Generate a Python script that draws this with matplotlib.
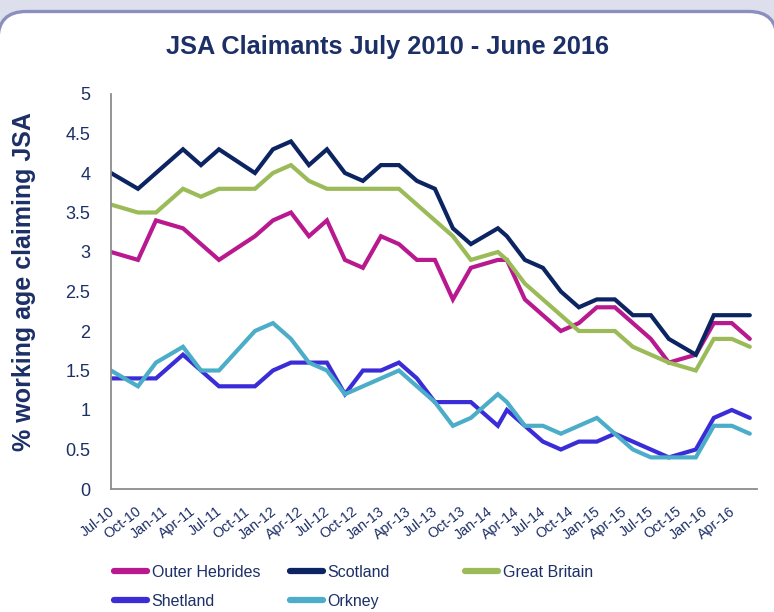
import matplotlib
matplotlib.use("Agg")
import matplotlib.pyplot as plt
from matplotlib.patches import FancyBboxPatch
from matplotlib.transforms import IdentityTransform, ScaledTranslation

# ---------------- data ----------------
months = [0, 3, 5, 8, 10, 12, 16, 18, 20, 22, 24, 26, 28, 30, 32, 34, 36, 38,
          40, 43, 44, 46, 48, 50, 52, 54, 56, 58, 60, 62, 65, 67, 69, 71]

outer_hebrides = [3.0, 2.9, 3.4, 3.3, 3.1, 2.9, 3.2, 3.4, 3.5, 3.2, 3.4, 2.9, 2.8, 3.2,
                  3.1, 2.9, 2.9, 2.4, 2.8, 2.9, 2.9, 2.4, 2.2, 2.0, 2.1, 2.3, 2.3, 2.1,
                  1.9, 1.6, 1.7, 2.1, 2.1, 1.9]
scotland = [4.0, 3.8, 4.0, 4.3, 4.1, 4.3, 4.0, 4.3, 4.4, 4.1, 4.3, 4.0, 3.9, 4.1,
            4.1, 3.9, 3.8, 3.3, 3.1, 3.3, 3.2, 2.9, 2.8, 2.5, 2.3, 2.4, 2.4, 2.2,
            2.2, 1.9, 1.7, 2.2, 2.2, 2.2]
great_britain = [3.6, 3.5, 3.5, 3.8, 3.7, 3.8, 3.8, 4.0, 4.1, 3.9, 3.8, 3.8, 3.8, 3.8,
                 3.8, 3.6, 3.4, 3.2, 2.9, 3.0, 2.9, 2.6, 2.4, 2.2, 2.0, 2.0, 2.0, 1.8,
                 1.7, 1.6, 1.5, 1.9, 1.9, 1.8]
shetland = [1.4, 1.4, 1.4, 1.7, 1.5, 1.3, 1.3, 1.5, 1.6, 1.6, 1.6, 1.2, 1.5, 1.5,
            1.6, 1.4, 1.1, 1.1, 1.1, 0.8, 1.0, 0.8, 0.6, 0.5, 0.6, 0.6, 0.7, 0.6,
            0.5, 0.4, 0.5, 0.9, 1.0, 0.9]
orkney = [1.5, 1.3, 1.6, 1.8, 1.5, 1.5, 2.0, 2.1, 1.9, 1.6, 1.5, 1.2, 1.3, 1.4,
          1.5, 1.3, 1.1, 0.8, 0.9, 1.2, 1.1, 0.8, 0.8, 0.7, 0.8, 0.9, 0.7, 0.5,
          0.4, 0.4, 0.4, 0.8, 0.8, 0.7]

tick_months = list(range(0, 72, 3))
tick_labels = ["Jul-10", "Oct-10", "Jan-11", "Apr-11", "Jul-11", "Oct-11", "Jan-12",
               "Apr-12", "Jul-12", "Oct-12", "Jan-13", "Apr-13", "Jul-13", "Oct-13",
               "Jan-14", "Apr-14", "Jul-14", "Oct-14", "Jan-15", "Apr-15", "Jul-15",
               "Oct-15", "Jan-16", "Apr-16"]

series = [
    ("Outer Hebrides", outer_hebrides, "#b8198e"),
    ("Scotland", scotland, "#0c2461"),
    ("Great Britain", great_britain, "#9bbb59"),
    ("Shetland", shetland, "#3a2dd8"),
    ("Orkney", orkney, "#4badc7"),
]

plt.rcParams["font.family"] = ["Liberation Sans", "DejaVu Sans"]
TXT = "#1c2f66"

W, H = 774, 612
fig = plt.figure(figsize=(W / 100, H / 100), dpi=100)
fig.patch.set_facecolor("#dde0ec")

frame = FancyBboxPatch((-2, -40), 779, H - 11.5 + 40,
                       boxstyle="round,pad=0,rounding_size=28",
                       transform=IdentityTransform(), facecolor="white",
                       edgecolor="#8a8fbf", linewidth=2.4, zorder=-10)
fig.patches.append(frame)

ax = fig.add_axes([111 / W, 1 - 489 / H, (757 - 111) / W, (489 - 94) / H])
ax.set_facecolor("none")
ax.set_zorder(5)

for name, vals, col in series:
    ax.plot(months, vals, color=col, lw=3.0, label=name, solid_joinstyle="miter",
            solid_capstyle="round")

ax.set_xlim(0, 71.8)
ax.set_ylim(0, 5)
ax.set_yticks([0, 0.5, 1, 1.5, 2, 2.5, 3, 3.5, 4, 4.5, 5])
ax.set_yticklabels(["0", "0.5", "1", "1.5", "2", "2.5", "3", "3.5", "4", "4.5", "5"])
ax.set_xticks(tick_months)
ax.set_xticklabels(tick_labels, rotation=38, ha="right", va="top", rotation_mode="anchor")

ax.tick_params(axis="y", length=0, pad=15, labelsize=13, labelcolor=TXT)
ax.tick_params(axis="x", length=0, pad=11, labelsize=10.3, labelcolor=TXT)
off = ScaledTranslation(-2 / 72, 0, fig.dpi_scale_trans)
for lab in ax.get_xticklabels():
    lab.set_transform(lab.get_transform() + off)

for s in ["top", "right"]:
    ax.spines[s].set_visible(False)
for s in ["left", "bottom"]:
    ax.spines[s].set_color("#8c8c8c")
    ax.spines[s].set_linewidth(1.3)

fig.text(387 / W, 1 - 47 / H, "JSA Claimants July 2010 - June 2016", ha="center",
         va="center", fontsize=18.3, fontweight="bold", color=TXT)
fig.text(24 / W, 1 - 282 / H, "% working age claiming JSA", rotation=90, ha="center",
         va="center", fontsize=18, fontweight="bold", color=TXT)

# ---------------- legend ----------------
handles, labels = ax.get_legend_handles_labels()
hmap = dict(zip(labels, handles))
leg_font = {"family": ["Liberation Sans"], "size": 11.5}
cols = [(["Outer Hebrides", "Shetland"], 114), (["Scotland", "Orkney"], 290),
        (["Great Britain"], 465)]
for names, xpx in cols:
    lg = fig.legend([hmap[n] for n in names], names, loc="upper left",
                    bbox_to_anchor=(xpx / W, 1 - 565 / H), frameon=False, prop=leg_font,
                    handlelength=2.05, handletextpad=0.3, labelspacing=0.85,
                    borderpad=0, borderaxespad=0)
    for t in lg.get_texts():
        t.set_color(TXT)
    for l in lg.get_lines():
        l.set_linewidth(4.5)
        l.set_solid_capstyle("round")

fig.savefig("out.png", dpi=100, facecolor=fig.get_facecolor())
